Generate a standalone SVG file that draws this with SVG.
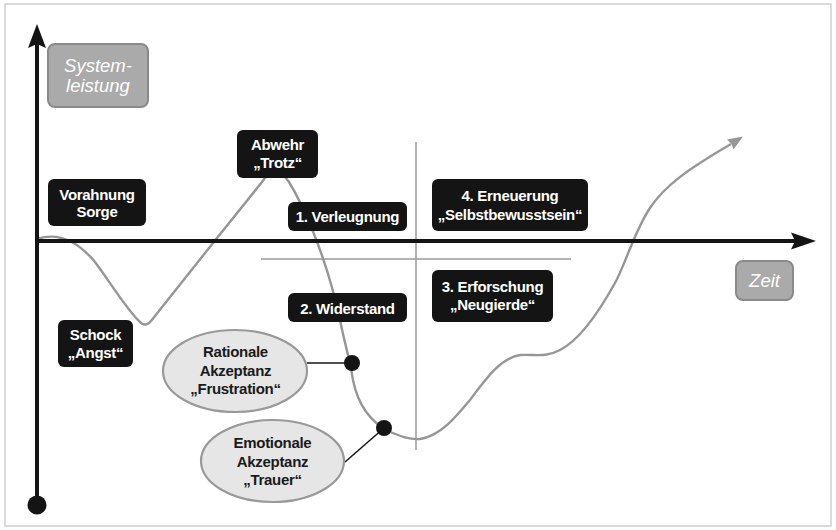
<svg xmlns="http://www.w3.org/2000/svg" width="836" height="530" viewBox="0 0 836 530">
<style>
.box{fill:#141414;stroke:none}
.lbl{font-family:"Liberation Sans",Arial,sans-serif;font-weight:bold;font-size:15px;letter-spacing:-0.3px;fill:#fff;text-anchor:middle}
.elabel{font-family:"Liberation Sans",Arial,sans-serif;font-weight:bold;font-size:15px;letter-spacing:-0.3px;fill:#1a1a1a;text-anchor:middle}
.gbox{fill:#aaaaaa;stroke:#8a8a8a;stroke-width:2}
.glbl{font-family:"Liberation Sans",Arial,sans-serif;font-style:italic;font-size:18.5px;fill:#fff;text-anchor:middle}
.ell{fill:#e6e6e6;stroke:#999;stroke-width:2.2}
.grid{stroke:#9a9a9a;stroke-width:1.5;fill:none}
.curve{stroke:#969696;stroke-width:2.4;fill:none;stroke-linejoin:round}
</style>
<rect x="5" y="4" width="826" height="522" fill="#fff" stroke="#cfcfcf" stroke-width="1.5"/>
<g id="connectors">
  <line class="grid" x1="416" y1="142" x2="416" y2="450"/>
  <line class="grid" x1="261" y1="259" x2="571" y2="259"/>
  <path class="curve" d="M 37 239 C 55 233, 75 238, 95 262 C 110 282, 127 310, 139 321 Q 145 328, 151 321 L 213 243 L 262 182 Q 275 162, 289 182 C 300 200, 325 250, 340 320 C 345 345, 350 360, 353 380 C 358 405, 370 422, 390 432 C 400 436, 410 440, 420 439 C 440 436, 455 418, 470 400 C 485 380, 500 358, 520 355 C 535 354, 545 358, 560 350 C 580 340, 600 310, 615 283 C 625 265, 635 230, 650 208 C 665 185, 690 168, 731 144"/>
  <polygon points="743,136.5 733.5,149.5 731.5,144 727,139.5" fill="#969696"/>
  <line x1="37" y1="44" x2="37" y2="505" stroke="#141414" stroke-width="4"/>
  <polygon points="37,24 46,48 37,44 28,48" fill="#141414"/>
  <circle cx="37" cy="505" r="9.5" fill="#141414"/>
  <line x1="37" y1="241" x2="796" y2="241" stroke="#141414" stroke-width="4"/>
  <polygon points="816,241 791,249.5 795,241 791,232.5" fill="#141414"/>
  <line x1="307" y1="363" x2="352" y2="363" stroke="#141414" stroke-width="1.5"/>
  <circle cx="352" cy="363" r="8" fill="#141414"/>
  <line x1="345" y1="462" x2="384" y2="428" stroke="#141414" stroke-width="1.5"/>
  <circle cx="384" cy="428" r="8" fill="#141414"/>
</g>
<g id="systemleistung">
  <rect class="gbox" x="48" y="44" width="100" height="63" rx="7"/>
  <text class="glbl" x="98" y="72">System-</text>
  <text class="glbl" x="98" y="92">leistung</text>
</g>
<g id="zeit">
  <rect class="gbox" x="736" y="261" width="57" height="39" rx="7"/>
  <text class="glbl" x="764.5" y="287">Zeit</text>
</g>
<g id="vorahnung">
  <rect class="box" x="48" y="179" width="98" height="47" rx="6"/>
  <text class="lbl" x="97" y="200">Vorahnung</text>
  <text class="lbl" x="97" y="217">Sorge</text>
</g>
<g id="abwehr">
  <rect class="box" x="237" y="130" width="81" height="48" rx="6"/>
  <text class="lbl" x="277.5" y="150">Abwehr</text>
  <text class="lbl" x="277.5" y="168">„Trotz“</text>
</g>
<g id="verleugnung">
  <rect class="box" x="288" y="202" width="119" height="29" rx="6"/>
  <text class="lbl" x="347.5" y="222">1. Verleugnung</text>
</g>
<g id="erneuerung">
  <rect class="box" x="432" y="179" width="156" height="52" rx="6"/>
  <text class="lbl" x="510" y="201">4. Erneuerung</text>
  <text class="lbl" x="510" y="220">„Selbstbewusstsein“</text>
</g>
<g id="widerstand">
  <rect class="box" x="288" y="293" width="119" height="29" rx="6"/>
  <text class="lbl" x="347.5" y="314">2. Widerstand</text>
</g>
<g id="erforschung">
  <rect class="box" x="432" y="270" width="121" height="52" rx="6"/>
  <text class="lbl" x="492.5" y="292">3. Erforschung</text>
  <text class="lbl" x="492.5" y="310">„Neugierde“</text>
</g>
<g id="schock">
  <rect class="box" x="58" y="320" width="75" height="47" rx="6"/>
  <text class="lbl" x="95.5" y="340">Schock</text>
  <text class="lbl" x="95.5" y="358">„Angst“</text>
</g>
<g id="rationale">
  <ellipse class="ell" cx="235" cy="371" rx="72" ry="41"/>
  <text class="elabel" x="235.5" y="357">Rationale</text>
  <text class="elabel" x="235.5" y="376">Akzeptanz</text>
  <text class="elabel" x="235.5" y="394">„Frustration“</text>
</g>
<g id="emotionale">
  <ellipse class="ell" cx="272.5" cy="461" rx="71.5" ry="41"/>
  <text class="elabel" x="272.5" y="448">Emotionale</text>
  <text class="elabel" x="272.5" y="467">Akzeptanz</text>
  <text class="elabel" x="272.5" y="485">„Trauer“</text>
</g>
</svg>
